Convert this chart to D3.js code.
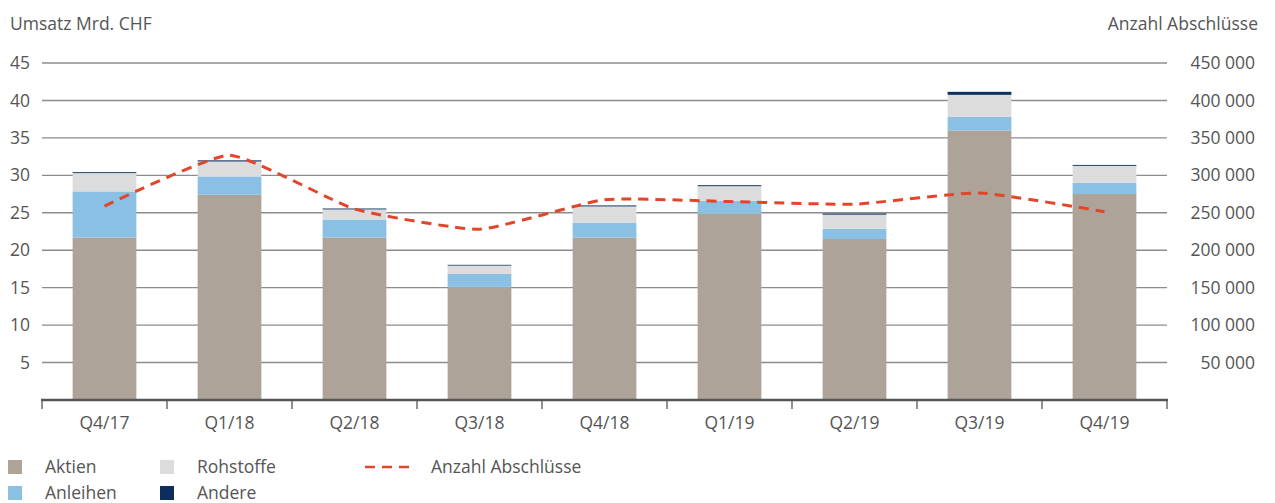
<!DOCTYPE html>
<html lang="de">
<head>
    <meta charset="UTF-8">
    <title>Umsatz und Anzahl Abschlüsse</title>
    <script src="https://d3js.org/d3.v7.min.js"></script>
    <style>
        body { margin: 0; background: #fff; }
        svg text { font-family: "Open Sans", sans-serif; font-size: 17.5px; fill: #555; }
    </style>
</head>
<body>
    <div id="chart"></div>
    <script>
        // Quartale
        const categories = ["Q4/17", "Q1/18", "Q2/18", "Q3/18", "Q4/18", "Q1/19", "Q2/19", "Q3/19", "Q4/19"];
        // Umsatz Mrd. CHF je Segment (gestapelt)
        const aktien    = [21.7, 27.4, 21.7, 15.1, 21.7, 24.9, 21.5, 36.0, 27.5];
        const anleihen  = [6.15, 2.45, 2.4, 1.75, 1.95, 1.7, 1.35, 1.8, 1.5];
        const rohstoffe = [2.45, 2.0, 1.35, 1.1, 2.2, 1.95, 1.9, 2.95, 2.27];
        const andere    = [0.12, 0.15, 0.12, 0.1, 0.13, 0.13, 0.15, 0.4, 0.12];
        // Anzahl Abschlüsse (rechte Achse)
        const abschluesse = [259000, 327000, 255000, 228000, 267500, 265000, 261500, 276500, 251500];
        const leftTicks = [5, 10, 15, 20, 25, 30, 35, 40, 45];
        const rightTicks = [50000, 100000, 150000, 200000, 250000, 300000, 350000, 400000, 450000];

        const width = 1275, height = 503;
        const margin = { top: 63, right: 108, bottom: 103, left: 42 };

        const svg = d3.select("#chart").append("svg")
            .attr("width", width)
            .attr("height", height);

        const x = d3.scaleBand()
            .domain(categories)
            .range([margin.left, width - margin.right])
            .paddingInner(0.49)
            .paddingOuter(0.245);

        const xb = d3.scaleBand()
            .domain(categories)
            .range([margin.left, width - margin.right]);

        const y = d3.scaleLinear()
            .domain([0, 45])
            .range([height - margin.bottom, margin.top]);

        const y2 = d3.scaleLinear()
            .domain([0, 450000])
            .range([height - margin.bottom, margin.top]);

        // gridlines
        svg.append("g")
            .selectAll("line")
            .data(leftTicks)
            .enter().append("line")
            .attr("x1", margin.left)
            .attr("x2", width - margin.right)
            .attr("y1", d => y(d))
            .attr("y2", d => y(d))
            .attr("stroke", "#8c8c8c")
            .attr("stroke-width", 1.4);

        // stacked bars
        const keys = ["aktien", "anleihen", "rohstoffe", "andere"];
        const colors = { aktien: "#ada398", anleihen: "#89c0e4", rohstoffe: "#dcdcdc", andere: "#0c2e5e" };
        const rows = categories.map((c, i) => ({
            cat: c, aktien: aktien[i], anleihen: anleihen[i], rohstoffe: rohstoffe[i], andere: andere[i]
        }));
        const stacked = d3.stack().keys(keys)(rows);

        svg.append("g")
            .selectAll("g")
            .data(stacked)
            .enter().append("g")
            .attr("fill", d => colors[d.key])
            .selectAll("rect")
            .data(d => d)
            .enter().append("rect")
            .attr("x", d => x(d.data.cat))
            .attr("width", x.bandwidth())
            .attr("y", d => y(d[1]))
            .attr("height", d => y(d[0]) - y(d[1]));

        // x axis
        const xAxis = svg.append("g")
            .attr("transform", "translate(0," + (height - margin.bottom) + ")")
            .call(d3.axisBottom(xb).tickSize(0).tickPadding(17));
        xAxis.select(".domain").remove();
        xAxis.selectAll("text").style("font-size", "17.5px");

        svg.append("line")
            .attr("x1", margin.left - 1)
            .attr("x2", width - margin.right + 1)
            .attr("y1", y(0))
            .attr("y2", y(0))
            .attr("stroke", "#555")
            .attr("stroke-width", 2.5);

        svg.append("g")
            .selectAll("line")
            .data(d3.range(categories.length + 1))
            .enter().append("line")
            .attr("x1", i => margin.left + i * xb.step())
            .attr("x2", i => margin.left + i * xb.step())
            .attr("y1", y(0))
            .attr("y2", y(0) + 9)
            .attr("stroke", "#555")
            .attr("stroke-width", 1.3);

        // left axis labels
        const yAxis = svg.append("g")
            .attr("transform", "translate(" + 30 + ",0)")
            .call(d3.axisLeft(y).tickValues(leftTicks).tickSize(0).tickPadding(0));
        yAxis.select(".domain").remove();

        // right axis labels
        const fmt = v => d3.format(",")(v).replace(/,/g, " ");
        const y2Axis = svg.append("g")
            .attr("transform", "translate(" + 1255 + ",0)")
            .call(d3.axisLeft(y2).tickValues(rightTicks).tickSize(0).tickPadding(0).tickFormat(fmt));
        y2Axis.select(".domain").remove();

        svg.selectAll(".tick text").attr("fill", "#555");

        // axis titles
        svg.append("text").attr("x", 10).attr("y", 30).text("Umsatz Mrd. CHF");
        svg.append("text").attr("x", 1258).attr("y", 30).attr("text-anchor", "end").text("Anzahl Abschlüsse");

        // line Anzahl Abschlüsse
        const line = d3.line()
            .x((d, i) => xb(categories[i]) + xb.bandwidth() / 2)
            .y(d => y2(d))
            .curve(d3.curveCardinal.tension(0.55));

        svg.append("path")
            .datum(abschluesse)
            .attr("d", line)
            .attr("fill", "none")
            .attr("stroke", "#e2452a")
            .attr("stroke-width", 3)
            .attr("stroke-dasharray", "10,7");

        // legend
        const legend = svg.append("g");
        const boxes = [
            { label: "Aktien", key: "aktien", x: 8, y: 460 },
            { label: "Anleihen", key: "anleihen", x: 8, y: 486 },
            { label: "Rohstoffe", key: "rohstoffe", x: 160, y: 460 },
            { label: "Andere", key: "andere", x: 160, y: 486 }
        ];
        boxes.forEach(b => {
            legend.append("rect")
                .attr("x", b.x).attr("y", b.y)
                .attr("width", 14).attr("height", 14)
                .attr("fill", colors[b.key]);
            legend.append("text")
                .attr("x", b.x + 37).attr("y", b.y + 13)
                .text(b.label);
        });
        legend.append("line")
            .attr("x1", 365).attr("x2", 410)
            .attr("y1", 467).attr("y2", 467)
            .attr("stroke", "#e2452a")
            .attr("stroke-width", 2.5)
            .attr("stroke-dasharray", "10,7");
        legend.append("text")
            .attr("x", 431).attr("y", 473)
            .text("Anzahl Abschlüsse");
    </script>
</body>
</html>
